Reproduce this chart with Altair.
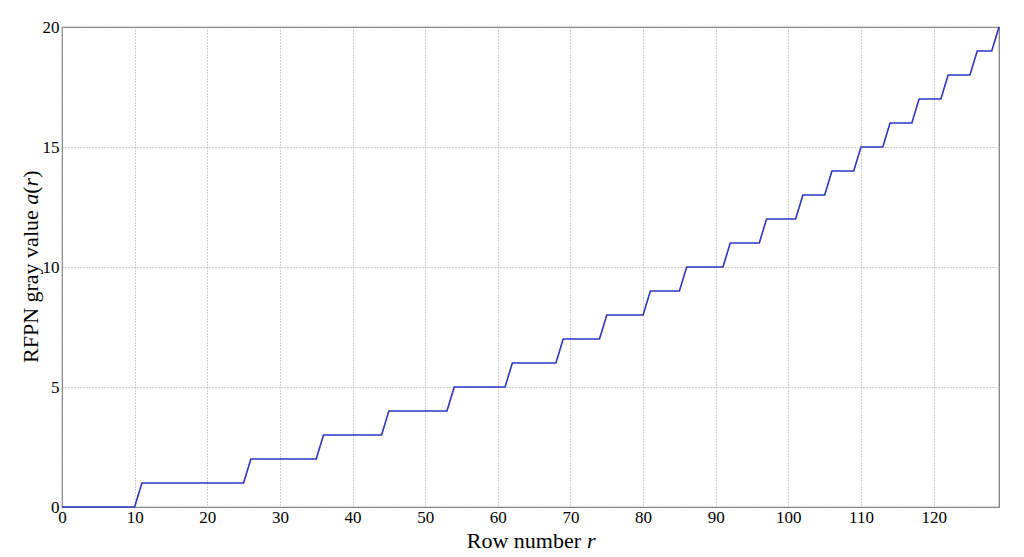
import altair as alt
import pandas as pd

# Corner points of the step curve (row number r, gray value a(r))
rows = [0, 10, 11, 25, 26, 35, 36, 44, 45, 53, 54, 61, 62, 68, 69, 74, 75, 80, 81,
        85, 86, 91, 92, 96, 97, 101, 102, 105, 106, 109, 110, 113, 114, 117, 118,
        121, 122, 125, 126, 128, 129]
values = [0, 0, 1, 1, 2, 2, 3, 3, 4, 4, 5, 5, 6, 6, 7, 7, 8, 8, 9,
          9, 10, 10, 11, 11, 12, 12, 13, 13, 14, 14, 15, 15, 16, 16, 17,
          17, 18, 18, 19, 19, 20]
x_ticks = [0, 10, 20, 30, 40, 50, 60, 70, 80, 90, 100, 110, 120]
y_ticks = [0, 5, 10, 15, 20]

df = pd.DataFrame({"r": rows, "a": values})

FONT = "Liberation Serif"
W, H = 937, 480

line = alt.Chart(df).mark_line(color="#3232c4", strokeWidth=1.6).encode(
    x=alt.X("r:Q", scale=alt.Scale(domain=[0, 129], nice=False, zero=False),
            axis=alt.Axis(values=x_ticks, title=None, labelFont=FONT, labelFontSize=17,
                          labelColor="black", labelPadding=2, ticks=False, domain=False,
                          grid=True, gridColor="#a0a0a0", gridDash=[1, 2], gridWidth=1,
                          labelFlush=False)),
    y=alt.Y("a:Q", scale=alt.Scale(domain=[0, 20], nice=False),
            axis=alt.Axis(values=y_ticks, title=None, labelFont=FONT, labelFontSize=17,
                          labelColor="black", labelPadding=3, ticks=False, domain=False,
                          grid=True, gridColor="#a0a0a0", gridDash=[1, 2], gridWidth=1,
                          labelFlush=False)),
)

def txt(s, x, y, italic=False, angle=0, align="left"):
    return alt.Chart(pd.DataFrame({"t": [s]})).mark_text(
        font=FONT, fontSize=22, fontStyle="italic" if italic else "normal",
        color="black", angle=angle, align=align, baseline="alphabetic"
    ).encode(text="t:N", x=alt.value(x), y=alt.value(y))

# x-axis title: "Row number r" (r italic)
xt1 = txt("Row number", 519, 521, align="right")
xt2 = txt("r", 525, 521, italic=True)

# y-axis title: "RFPN gray value a(r)" rotated
bx = -24
yt1 = txt("RFPN gray value", bx, 336, angle=270)
yt2 = txt("a", bx, 177.7, italic=True, angle=270)
yt3 = txt("(", bx, 166.7, angle=270)
yt4 = txt("r", bx, 159.4, italic=True, angle=270)
yt5 = txt(")", bx, 150.8, angle=270)

chart = alt.layer(line, xt1, xt2, yt1, yt2, yt3, yt4, yt5).properties(
    width=W, height=H,
    autosize=alt.AutoSizeParams(type="none"),
    padding={"left": 54, "top": 19, "right": 10, "bottom": 45},
    background="white",
).configure_view(stroke="#7a7a7a", strokeWidth=1.2)

chart.save("out.html", embed_options={"renderer": "svg", "actions": False})
